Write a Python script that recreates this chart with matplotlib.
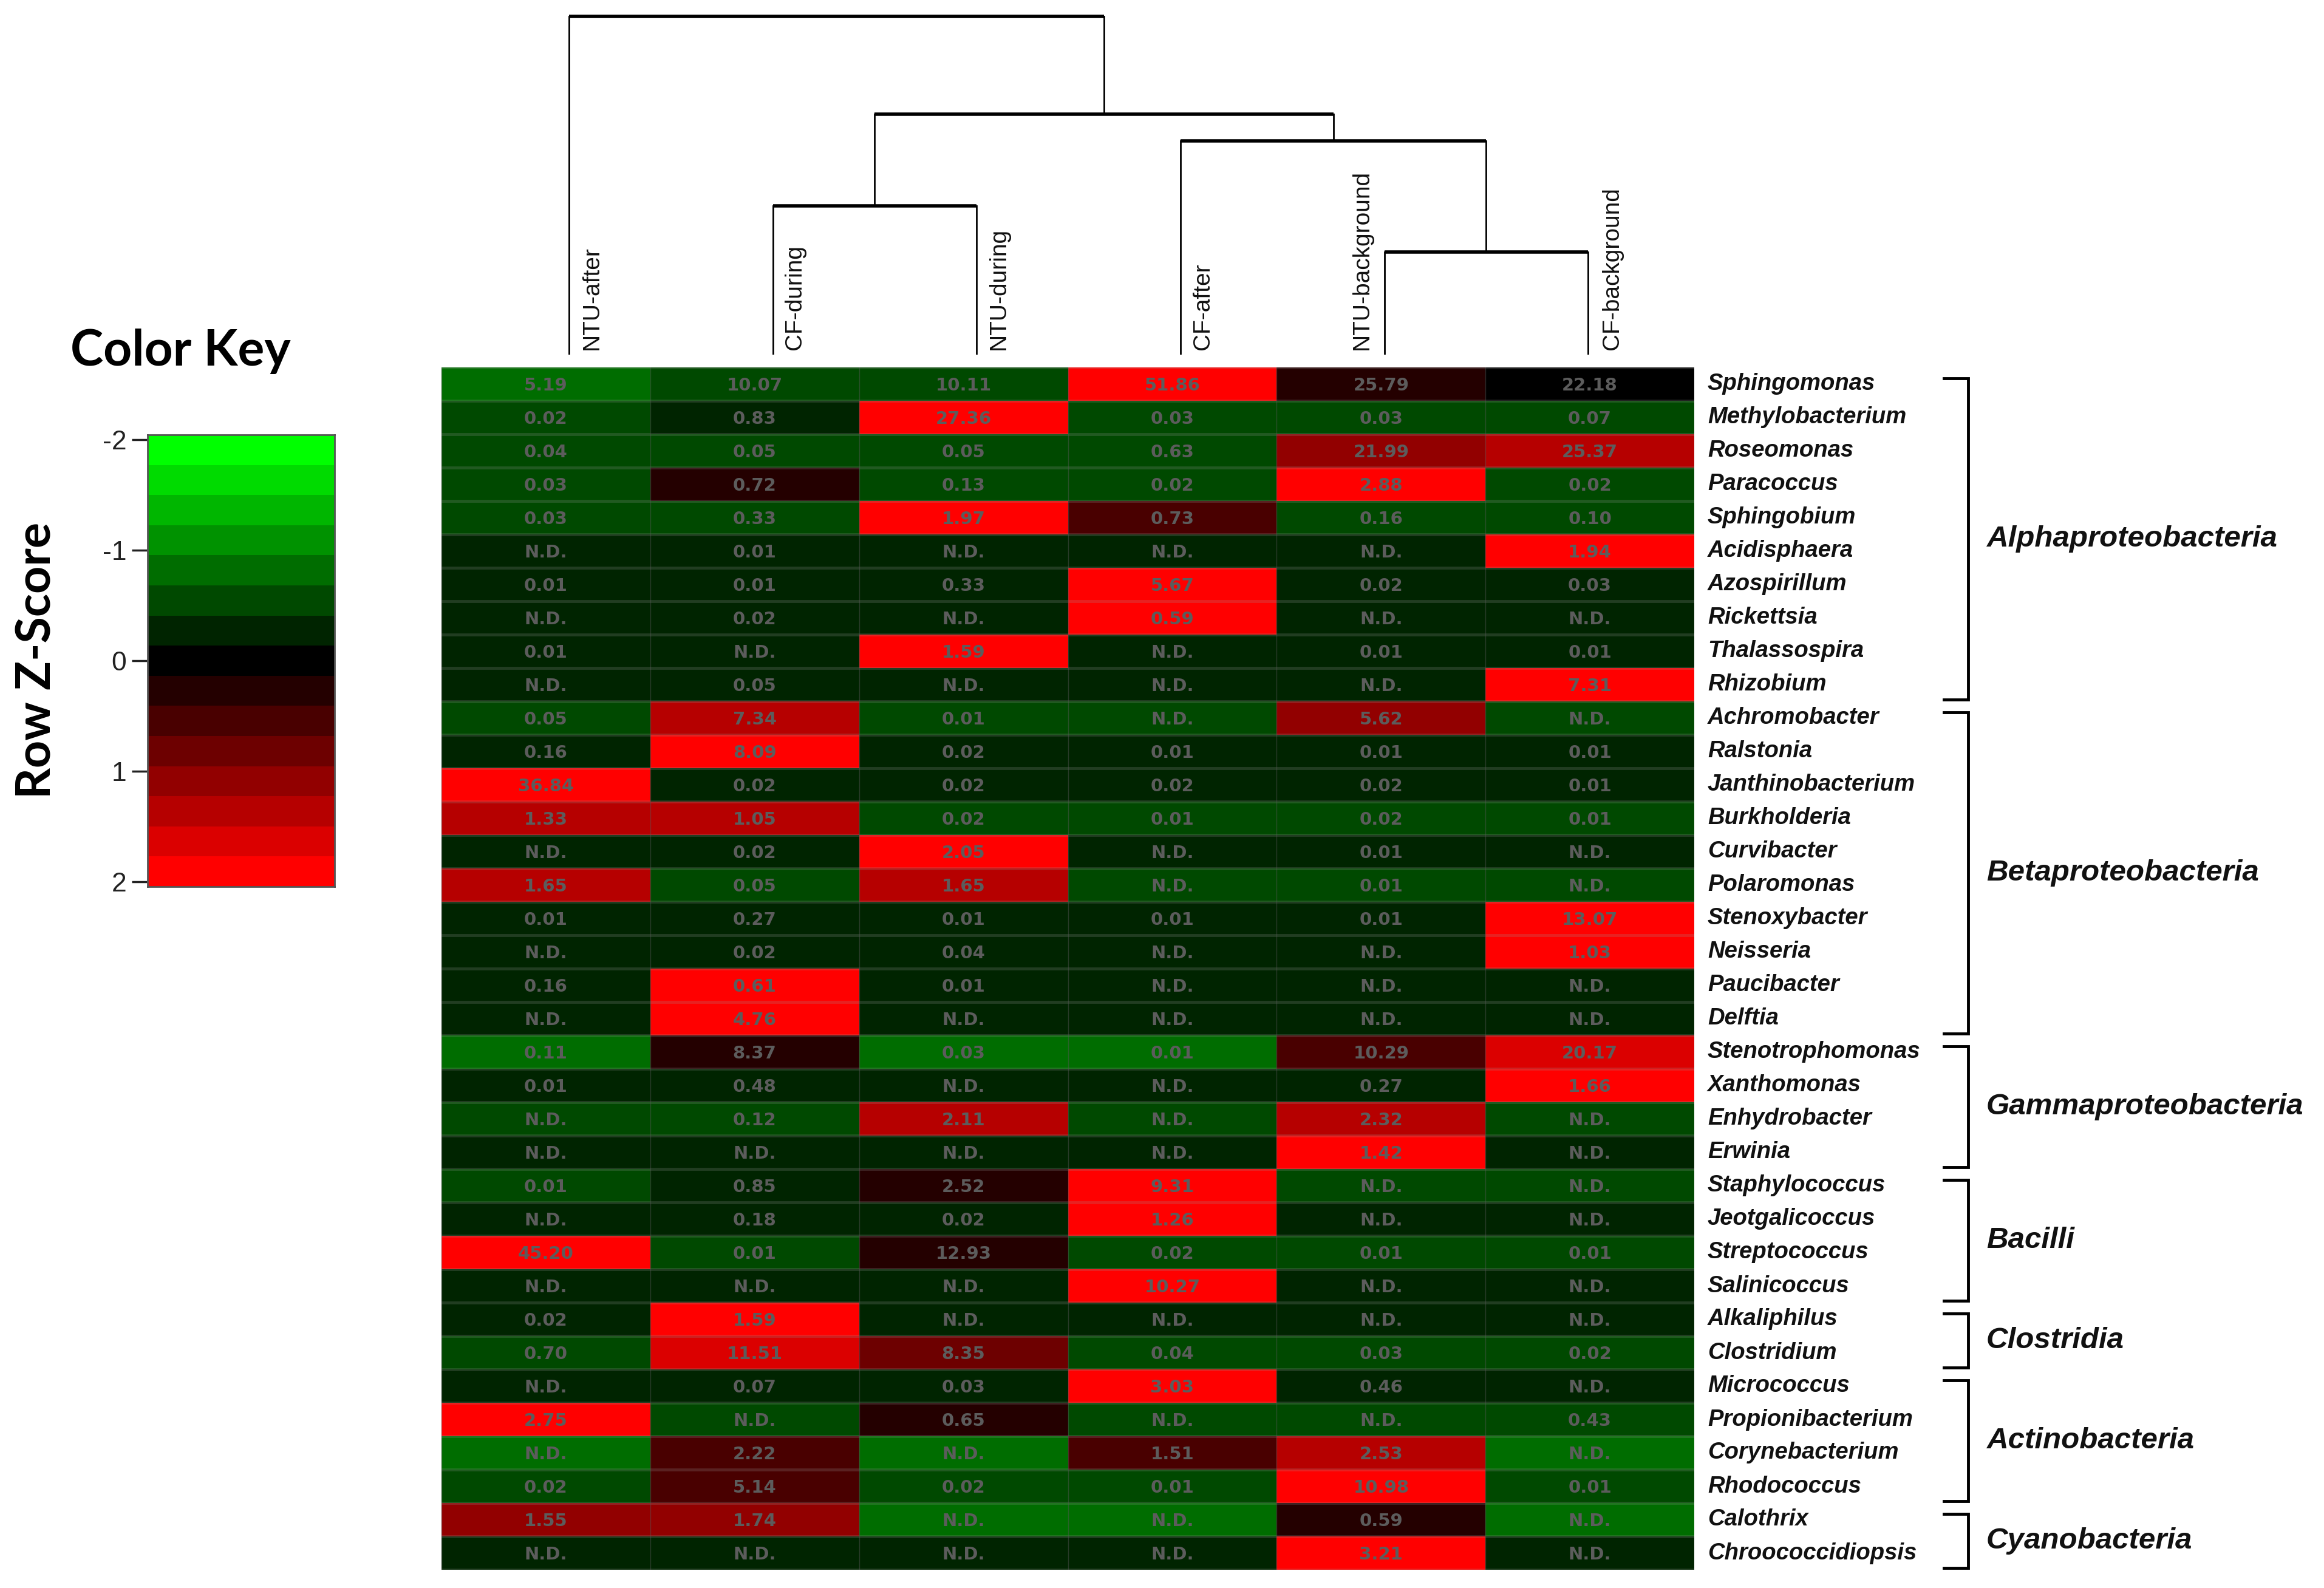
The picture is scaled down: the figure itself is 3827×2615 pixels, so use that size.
import numpy as np
import matplotlib
matplotlib.use("Agg")
import matplotlib.pyplot as plt
from matplotlib.colors import ListedColormap, BoundaryNorm

# ---- data -------------------------------------------------------------
samples = ["NTU-after", "CF-during", "NTU-during", "CF-after", "NTU-background", "CF-background"]

genera = [
    "Sphingomonas", "Methylobacterium", "Roseomonas", "Paracoccus", "Sphingobium",
    "Acidisphaera", "Azospirillum", "Rickettsia", "Thalassospira", "Rhizobium",
    "Achromobacter", "Ralstonia", "Janthinobacterium", "Burkholderia", "Curvibacter",
    "Polaromonas", "Stenoxybacter", "Neisseria", "Paucibacter", "Delftia",
    "Stenotrophomonas", "Xanthomonas", "Enhydrobacter", "Erwinia",
    "Staphylococcus", "Jeotgalicoccus", "Streptococcus", "Salinicoccus",
    "Alkaliphilus", "Clostridium",
    "Micrococcus", "Propionibacterium", "Corynebacterium", "Rhodococcus",
    "Calothrix", "Chroococcidiopsis",
]

classes = ["Alphaproteobacteria", "Betaproteobacteria", "Gammaproteobacteria",
           "Bacilli", "Clostridia", "Actinobacteria", "Cyanobacteria"]
class_sizes = [10, 10, 4, 4, 2, 4, 2]

# relative abundance (%) printed in each cell
abundance = [
    ["5.19", "10.07", "10.11", "51.86", "25.79", "22.18"],
    ["0.02", "0.83", "27.36", "0.03", "0.03", "0.07"],
    ["0.04", "0.05", "0.05", "0.63", "21.99", "25.37"],
    ["0.03", "0.72", "0.13", "0.02", "2.88", "0.02"],
    ["0.03", "0.33", "1.97", "0.73", "0.16", "0.10"],
    ["N.D.", "0.01", "N.D.", "N.D.", "N.D.", "1.94"],
    ["0.01", "0.01", "0.33", "5.67", "0.02", "0.03"],
    ["N.D.", "0.02", "N.D.", "0.59", "N.D.", "N.D."],
    ["0.01", "N.D.", "1.59", "N.D.", "0.01", "0.01"],
    ["N.D.", "0.05", "N.D.", "N.D.", "N.D.", "7.31"],
    ["0.05", "7.34", "0.01", "N.D.", "5.62", "N.D."],
    ["0.16", "8.09", "0.02", "0.01", "0.01", "0.01"],
    ["36.84", "0.02", "0.02", "0.02", "0.02", "0.01"],
    ["1.33", "1.05", "0.02", "0.01", "0.02", "0.01"],
    ["N.D.", "0.02", "2.05", "N.D.", "0.01", "N.D."],
    ["1.65", "0.05", "1.65", "N.D.", "0.01", "N.D."],
    ["0.01", "0.27", "0.01", "0.01", "0.01", "13.07"],
    ["N.D.", "0.02", "0.04", "N.D.", "N.D.", "1.03"],
    ["0.16", "0.61", "0.01", "N.D.", "N.D.", "N.D."],
    ["N.D.", "4.76", "N.D.", "N.D.", "N.D.", "N.D."],
    ["0.11", "8.37", "0.03", "0.01", "10.29", "20.17"],
    ["0.01", "0.48", "N.D.", "N.D.", "0.27", "1.66"],
    ["N.D.", "0.12", "2.11", "N.D.", "2.32", "N.D."],
    ["N.D.", "N.D.", "N.D.", "N.D.", "1.42", "N.D."],
    ["0.01", "0.85", "2.52", "9.31", "N.D.", "N.D."],
    ["N.D.", "0.18", "0.02", "1.26", "N.D.", "N.D."],
    ["45.20", "0.01", "12.93", "0.02", "0.01", "0.01"],
    ["N.D.", "N.D.", "N.D.", "10.27", "N.D.", "N.D."],
    ["0.02", "1.59", "N.D.", "N.D.", "N.D.", "N.D."],
    ["0.70", "11.51", "8.35", "0.04", "0.03", "0.02"],
    ["N.D.", "0.07", "0.03", "3.03", "0.46", "N.D."],
    ["2.75", "N.D.", "0.65", "N.D.", "N.D.", "0.43"],
    ["N.D.", "2.22", "N.D.", "1.51", "2.53", "N.D."],
    ["0.02", "5.14", "0.02", "0.01", "10.98", "0.01"],
    ["1.55", "1.74", "N.D.", "N.D.", "0.59", "N.D."],
    ["N.D.", "N.D.", "N.D.", "N.D.", "3.21", "N.D."],
]

zscore = [
    [-0.80, -0.55, -0.55, 1.90, 0.27, 0.00],
    [-0.55, -0.27, 1.90, -0.55, -0.55, -0.55],
    [-0.55, -0.55, -0.55, -0.55, 1.10, 1.35],
    [-0.55, 0.27, -0.55, -0.55, 1.90, -0.55],
    [-0.55, -0.55, 1.90, 0.55, -0.55, -0.55],
    [-0.27, -0.27, -0.27, -0.27, -0.27, 1.90],
    [-0.27, -0.27, -0.27, 1.90, -0.27, -0.27],
    [-0.27, -0.27, -0.27, 1.90, -0.27, -0.27],
    [-0.27, -0.27, 1.90, -0.27, -0.27, -0.27],
    [-0.27, -0.27, -0.27, -0.27, -0.27, 1.90],
    [-0.55, 1.35, -0.55, -0.55, 1.10, -0.55],
    [-0.27, 1.90, -0.27, -0.27, -0.27, -0.27],
    [1.90, -0.27, -0.27, -0.27, -0.27, -0.27],
    [1.35, 1.35, -0.55, -0.55, -0.55, -0.55],
    [-0.27, -0.27, 1.90, -0.27, -0.27, -0.27],
    [1.35, -0.55, 1.35, -0.55, -0.55, -0.55],
    [-0.27, -0.27, -0.27, -0.27, -0.27, 1.90],
    [-0.27, -0.27, -0.27, -0.27, -0.27, 1.90],
    [-0.27, 1.90, -0.27, -0.27, -0.27, -0.27],
    [-0.27, 1.90, -0.27, -0.27, -0.27, -0.27],
    [-0.80, 0.27, -0.80, -0.80, 0.55, 1.60],
    [-0.27, -0.27, -0.27, -0.27, -0.27, 1.90],
    [-0.55, -0.55, 1.35, -0.55, 1.35, -0.55],
    [-0.27, -0.27, -0.27, -0.27, 1.90, -0.27],
    [-0.55, -0.27, 0.27, 1.90, -0.55, -0.55],
    [-0.27, -0.27, -0.27, 1.90, -0.27, -0.27],
    [1.90, -0.55, 0.27, -0.55, -0.55, -0.55],
    [-0.27, -0.27, -0.27, 1.90, -0.27, -0.27],
    [-0.27, 1.90, -0.27, -0.27, -0.27, -0.27],
    [-0.55, 1.60, 0.80, -0.55, -0.55, -0.55],
    [-0.27, -0.27, -0.27, 1.90, -0.27, -0.27],
    [1.90, -0.55, 0.27, -0.55, -0.55, -0.55],
    [-0.80, 0.55, -0.80, 0.55, 1.35, -0.80],
    [-0.55, 0.55, -0.55, -0.55, 1.90, -0.55],
    [1.10, 1.10, -0.80, -0.80, 0.27, -0.80],
    [-0.27, -0.27, -0.27, -0.27, 1.90, -0.27],
]

# column dendrogram: (left node, right node, height); leaves 0-5, merges numbered 6+
merges = [(1, 2, 245), (4, 5, 169), (3, 7, 352), (6, 8, 396), (0, 9, 557)]

# ---- colours: green-black-red, 15 steps ------------------------------
levels = np.arange(15)
greenred = [(0, (7 - k) / 7, 0) if k < 7 else ((k - 7) / 7, 0, 0) for k in levels]
cmap = ListedColormap(greenred)
zmax = 5 / np.sqrt(6)
bounds = np.linspace(-zmax, zmax, 16)
norm = BoundaryNorm(bounds, cmap.N)

plt.rcParams["font.family"] = ["Liberation Sans", "DejaVu Sans"]
plt.rcParams["axes.unicode_minus"] = False

W, H = 3827, 2615
fig = plt.figure(figsize=(W / 100, H / 100), dpi=100)


def box(x0, y0, x1, y1):
    return [x0 / W, 1 - y1 / H, (x1 - x0) / W, (y1 - y0) / H]


# ---- heatmap ----------------------------------------------------------
nrow, ncol = len(genera), len(samples)
hm = fig.add_axes(box(727, 605, 2790, 2585))
hm.pcolormesh(np.arange(ncol + 1), np.arange(nrow + 1), np.array(zscore), cmap=cmap, norm=norm)
hm.set_xlim(0, ncol)
hm.set_ylim(nrow, 0)
hm.axis("off")
for i in range(nrow + 1):
    hm.axhline(i, color=(0.6, 0.6, 0.6, 0.22), lw=3.5)
for j in range(ncol + 1):
    hm.axvline(j, color=(0.35, 0.35, 0.35, 0.45), lw=1)
for i, row in enumerate(abundance):
    for j, s in enumerate(row):
        hm.text(j + 0.5, i + 0.55, s, ha="center", va="center", fontsize=21,
                color="#5c5c5c", fontweight="bold", family="DejaVu Sans")

# ---- row labels, class brackets ---------------------------------------
side = fig.add_axes(box(2790, 605, 3827, 2585))
side.set_xlim(2790, 3827)
side.set_ylim(nrow, 0)
side.axis("off")
for i, g in enumerate(genera):
    side.text(2812, i + 0.5, g, ha="left", va="center", fontsize=27.5,
              fontstyle="italic", fontweight="bold", color="#111111")
start = 0
for name, n in zip(classes, class_sizes):
    top, bot = start + 0.33, start + n - 0.05
    side.plot([3201, 3241, 3241, 3201], [top, top, bot, bot], color="black",
              lw=3.5, solid_joinstyle="miter")
    side.text(3271, (top + bot) / 2, name, ha="left", va="center", fontsize=35.5,
              fontstyle="italic", fontweight="bold", color="#111111")
    start += n

# ---- column dendrogram ------------------------------------------------
den = fig.add_axes(box(769, 20, 2783, 584))
den.set_xlim(0, ncol)
den.set_ylim(0, 564)
den.axis("off")
xpos = {k: k + 0.5 for k in range(ncol)}
ypos = {k: 0 for k in range(ncol)}
for m, (a, b, h) in enumerate(merges):
    den.plot([xpos[a], xpos[a]], [ypos[a], h], color="black", lw=2)
    den.plot([xpos[b], xpos[b]], [ypos[b], h], color="black", lw=2)
    den.plot([xpos[a], xpos[b]], [h, h], color="black", lw=4, solid_capstyle="butt")
    xpos[ncol + m] = (xpos[a] + xpos[b]) / 2
    ypos[ncol + m] = h
label_shift = [0.113, 0.11, 0.11, 0.11, -0.11, 0.12]
for k, s in enumerate(samples):
    den.text(k + 0.5 + label_shift[k], 8, s, rotation=90, ha="center", va="bottom",
             fontsize=28, color="#111111")

# ---- colour key -------------------------------------------------------
key = fig.add_axes(box(243, 716, 551, 1460))
centers = (bounds[:-1] + bounds[1:]) / 2
key.pcolormesh([0, 1], bounds, centers.reshape(-1, 1), cmap=cmap, norm=norm)
key.set_ylim(zmax, -zmax)
key.set_xlim(0, 1)
key.set_xticks([])
key.set_yticks([-2, -1, 0, 1, 2])
key.tick_params(axis="y", length=19, width=2.5, labelsize=32, pad=6, colors="#222222")
for sp in key.spines.values():
    sp.set_color("#555555")
    sp.set_linewidth(2)
fig.text(297 / W, 1 - 578 / H, "Color Key", ha="center", va="center",
         fontsize=59, fontweight="bold", family="Lato")
fig.text(61 / W, 1 - 1087 / H, "Row Z-Score", ha="center", va="center",
         rotation=90, fontsize=57, fontweight="bold", family="Lato")

fig.savefig("out.png", dpi=100)
